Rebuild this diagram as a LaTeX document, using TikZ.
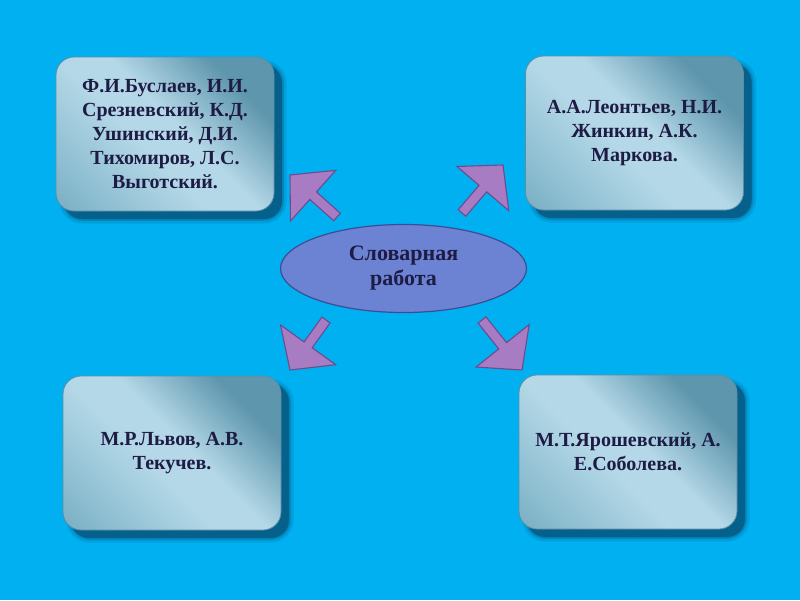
\documentclass[tikz,border=0pt]{standalone}
\usepackage{fontspec}
\setmainfont{Liberation Serif}
\usetikzlibrary{calc,shapes.geometric}
\definecolor{bg}{HTML}{00B0F0}
\definecolor{boxlt}{HTML}{B4D8E7}
\definecolor{boxmd}{HTML}{8CBDD0}
\definecolor{boxdk}{HTML}{5E96AD}
\definecolor{boxln}{HTML}{5B8EA3}
\definecolor{shcol}{HTML}{05608C}
\definecolor{ellfill}{HTML}{6C83D3}
\definecolor{ellline}{HTML}{3D4C96}
\definecolor{arrfill}{HTML}{A87CC2}
\definecolor{arrline}{HTML}{6E4B8E}
\definecolor{txt}{HTML}{1E1B45}
\pgfdeclarehorizontalshading{boxshade}{100bp}{color(0bp)=(boxdk); color(24bp)=(boxmd); color(44bp)=(boxlt); color(54bp)=(boxlt); color(73bp)=(boxdk); color(100bp)=(boxdk)}
\newcommand\blockarr[2]{%
  \coordinate (hb) at ($(#2)!31pt!(#1)$);
  \draw[arrowstyle] (#2) -- ($(hb)!34pt!90:(#2)$) -- ($(hb)!5pt!90:(#2)$)
    -- ($(#1)!5pt!90:(#2)$) -- ($(#1)!5pt!-90:(#2)$)
    -- ($(hb)!5pt!-90:(#2)$) -- ($(hb)!34pt!-90:(#2)$) -- cycle;}
\tikzset{
  txtstyle/.style={font=\fontsize{20}{24}\selectfont\bfseries, text=txt, align=center},
  infobox/.style={txtstyle, rectangle, rounded corners=18pt, draw=boxln, line width=0.8pt,
    shade, shading=boxshade, shading angle=45, inner sep=0pt,
    minimum width=218pt, minimum height=154pt,
    preaction={fill=shcol, fill opacity=0.2, draw=shcol, draw opacity=0.2, line width=9pt, transform canvas={shift={(8pt,-8pt)}}},
    preaction={fill=shcol, fill opacity=0.5, draw=shcol, draw opacity=0.35, line width=4pt, transform canvas={shift={(8pt,-8pt)}}},
    preaction={fill=shcol, transform canvas={shift={(8pt,-8pt)}}}},
  ellstyle/.style={txtstyle, font=\fontsize{22}{25}\selectfont\bfseries, ellipse, fill=ellfill, draw=ellline, line width=1.2pt,
    minimum width=246pt, minimum height=88pt, inner sep=0pt},
  arrowstyle/.style={fill=arrfill, draw=arrline, line width=1.1pt}
}
\begin{document}
\begin{tikzpicture}[x=1pt,y=-1pt]
\useasboundingbox (0,0) rectangle (800,600);
\fill[bg] (0,0) rectangle (800,600);
\node[infobox] (tl) at (165,134) {Ф.И.Буслаев, И.И.\\Срезневский, К.Д.\\Ушинский, Д.И.\\Тихомиров, Л.С.\\Выготский.};
\node[infobox] (tr) at (634.5,133) {А.А.Леонтьев, Н.И.\\Жинкин, А.К.\\Маркова.};
\node[infobox] (bl) at (172,453) {М.Р.Львов, А.В.\\Текучев.};
\node[infobox] (br) at (628,452) {М.Т.Ярошевский, А.\\Е.Соболева.};
\node[ellstyle] (c) at (403.5,268.5) {Словарная\\работа};
\coordinate (a1t) at (337,217); \coordinate (a1p) at (290,175);
\coordinate (a2t) at (462,213); \coordinate (a2p) at (503,165);
\coordinate (a3t) at (326,320); \coordinate (a3p) at (290,370);
\coordinate (a4t) at (482,320); \coordinate (a4p) at (522,370);
\blockarr{a1t}{a1p}
\blockarr{a2t}{a2p}
\blockarr{a3t}{a3p}
\blockarr{a4t}{a4p}
\end{tikzpicture}
\end{document}
